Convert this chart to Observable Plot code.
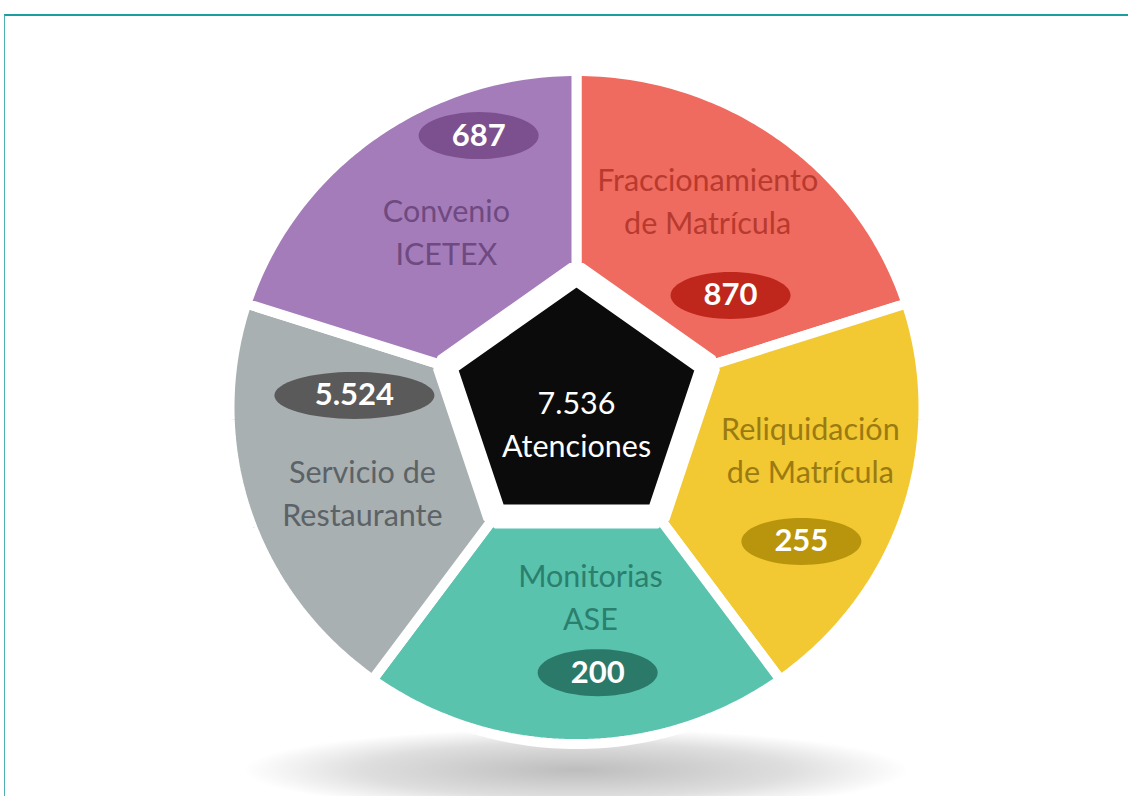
<!DOCTYPE html>
<html>
<head>
<meta charset="utf-8">
<script src="https://cdn.jsdelivr.net/npm/d3@7"></script>
<script src="https://cdn.jsdelivr.net/npm/@observablehq/plot@0.6"></script>
<style>
  html, body { margin: 0; padding: 0; background: #ffffff; }
  #wrap { position: relative; width: 1128px; height: 796px; overflow: hidden; background: #fff; }
  #frame { position: absolute; left: 4px; top: 14px; right: -2px; bottom: -2px;
           border-top: 2px solid #1b9ea0; border-left: 1px solid #4fb0b3; }
  #shadow { position: absolute; left: 240px; top: 728px; width: 672px; height: 84px;
            background: radial-gradient(ellipse at center, rgba(0,0,0,0.26) 0%, rgba(0,0,0,0.13) 45%, rgba(0,0,0,0) 70%); }
  #chart { position: absolute; left: 0; top: 0; }
</style>
</head>
<body>
<div id="wrap">
  <div id="frame"></div>
  <div id="shadow"></div>
  <div id="chart"></div>
</div>
<script>
// ---- data ----
const categories = ["Fraccionamiento de Matrícula", "Reliquidación de Matrícula", "Monitorias ASE", "Servicio de Restaurante", "Convenio ICETEX"];
const labelLines = ["Fraccionamiento\nde Matrícula", "Reliquidación\nde Matrícula", "Monitorias\nASE", "Servicio de\nRestaurante", "Convenio\nICETEX"];
const values = [870, 255, 200, 5524, 687];
const totalLabel = "Atenciones";

// ---- styles ----
const segmentColors = ["#ef6b5f", "#f2c833", "#59c3ae", "#a8b0b2", "#a57cba"];
const ovalColors    = ["#c0271c", "#b8950c", "#2b7a69", "#5a5a5a", "#7c4f8f"];
const textColors    = ["#b83a2e", "#9a7b12", "#2b7f6d", "#5c6266", "#6e4a80"];

// ---- layout (unit coordinates, circle radius = 1) ----
const labelPos = [[0.378, 0.620], [0.674, -0.120], [0.040, -0.557], [-0.617, -0.248], [-0.375, 0.528]];
const ovalPos  = [[0.444, 0.333], [0.648, -0.398], [0.061, -0.788], [-0.640, 0.036], [-0.282, 0.808]];

const cx = 576, cy = 407, RX = 347, RY = 336.5;
const locale = d3.formatLocale({decimal: ",", thousands: ".", grouping: [3], currency: ["$", ""]});
const fmt = locale.format(",d");
const total = d3.sum(values);

const n = categories.length;
const step = 360 / n;
const rad = a => a * Math.PI / 180;

// sectors (compass angles, clockwise from north)
const sectors = [];
categories.forEach((c, i) => {
  const a0 = i * step, a1 = (i + 1) * step;
  sectors.push({name: c, x: 0, y: 0, color: segmentColors[i]});
  for (let k = 0; k <= 72; k++) {
    const a = rad(a0 + (a1 - a0) * k / 72);
    sectors.push({name: c, x: Math.sin(a), y: Math.cos(a), color: segmentColors[i]});
  }
});

// central pentagon (vertices on sector boundaries)
const pentR = 0.40;
const pentagon = d3.range(n).map(i => ({x: pentR * Math.sin(rad(i * step)), y: pentR * Math.cos(rad(i * step))}));

// value ovals
const ovals = [];
categories.forEach((c, i) => {
  const txt = fmt(values[i]);
  const rx = (30 + 10 * txt.length) / RX, ry = 23.5 / RY;
  for (let k = 0; k < 64; k++) {
    const t = 2 * Math.PI * k / 64;
    ovals.push({name: c, x: ovalPos[i][0] + rx * Math.cos(t), y: ovalPos[i][1] + ry * Math.sin(t), color: ovalColors[i]});
  }
});

const labels = categories.map((c, i) => ({text: labelLines[i], x: labelPos[i][0], y: labelPos[i][1], color: textColors[i]}));
const valueTexts = categories.map((c, i) => ({text: fmt(values[i]), x: ovalPos[i][0], y: ovalPos[i][1]}));

const chart = Plot.plot({
  width: 1128,
  height: 796,
  margin: 0,
  x: {domain: [-1, 1], range: [cx - RX, cx + RX], axis: null},
  y: {domain: [-1, 1], range: [cy + RY, cy - RY], axis: null},
  color: {type: "identity"},
  style: {background: "transparent", overflow: "visible"},
  marks: [
    Plot.line(sectors, {x: "x", y: "y", z: "name", fill: "color", stroke: "white", strokeWidth: 10, strokeLinejoin: "miter", curve: "linear-closed"}),
    Plot.line(pentagon, {x: "x", y: "y", fill: "#0b0b0b", stroke: "white", strokeWidth: 24, strokeLinejoin: "miter", curve: "linear-closed"}),
    Plot.line(ovals, {x: "x", y: "y", z: "name", fill: "color", stroke: "none", curve: "linear-closed"}),
    Plot.text(labels, {x: "x", y: "y", text: "text", fill: "color", fontSize: 30.5, fontFamily: "Lato", lineHeight: 1.41}),
    Plot.text(valueTexts, {x: "x", y: "y", text: "text", fill: "white", fontSize: 31, fontWeight: "bold", fontFamily: "Lato"}),
    Plot.text([{x: 0, y: 0, text: fmt(total) + "\n" + totalLabel}], {x: "x", y: "y", text: "text", fill: "white", fontSize: 30.5, fontFamily: "Lato", lineHeight: 1.41, dy: 14})
  ]
});
document.getElementById("chart").appendChild(chart);
</script>
</body>
</html>
